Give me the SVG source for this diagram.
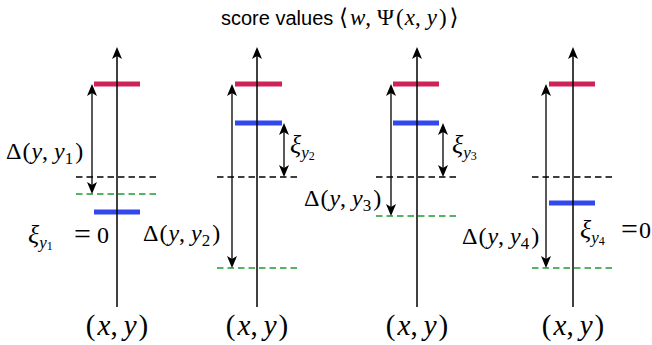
<svg xmlns="http://www.w3.org/2000/svg" width="652" height="345" viewBox="0 0 652 345">
<defs>
<marker id="ah" viewBox="0 0 12 10" refX="9" refY="5" markerWidth="12" markerHeight="10" markerUnits="userSpaceOnUse" orient="auto-start-reverse">
<path d="M0,0 L12,5 L0,10 L3,5 z" fill="#000"/>
</marker>
<marker id="axh" viewBox="0 0 12 10" refX="9" refY="5" markerWidth="13" markerHeight="10" markerUnits="userSpaceOnUse" orient="auto">
<path d="M0,0 L12,5 L0,10 L3,5 z" fill="#000"/>
</marker>
</defs>
<style>
.bg{fill:#fff}
.axis{stroke:#000;stroke-width:1.5;fill:none;marker-end:url(#axh)}
.dbl{stroke:#000;stroke-width:1.3;fill:none;marker-start:url(#ah);marker-end:url(#ah)}
.red{stroke:#cf2257;stroke-width:5}
.blue{stroke:#3347ee;stroke-width:5}
.dk{stroke:#000;stroke-width:1.3;stroke-dasharray:6.5 4}
.dg{stroke:#1f9a30;stroke-width:1.3;stroke-dasharray:6.5 4}
.m{font-family:"Liberation Serif","DejaVu Serif",serif;font-size:24px;fill:#000}
.i{font-style:italic}
.xi{font-style:italic;font-size:26px}
.sub{font-size:17px}
.ss{font-size:12px}
.eq{font-size:30px}
.b{font-family:"Liberation Serif","DejaVu Serif",serif;font-size:29px;fill:#000;text-anchor:middle}
.t{font-family:"Liberation Sans",Arial,sans-serif;font-size:20px;fill:#000}
.tm{font-family:"Liberation Serif","DejaVu Serif",serif;font-size:23px;fill:#000}
</style>
<rect class="bg" x="0" y="0" width="652" height="345"/>
<g id="title">
<text class="t" x="221" y="25">score values</text>
<text class="tm" x="339" y="25">⟨<tspan class="i" dx="2">w</tspan>,<tspan dx="6">Ψ</tspan><tspan dx="2">(</tspan><tspan class="i" dx="1">x</tspan>,<tspan class="i" dx="6">y</tspan><tspan dx="2">)</tspan><tspan dx="3">⟩</tspan></text>
</g>
<g id="col1">
<line class="dk" x1="76" y1="177" x2="159" y2="177"/>
<line class="dg" x1="76" y1="194" x2="159" y2="194"/>
<line class="red" x1="94" y1="84" x2="140" y2="84"/>
<line class="blue" x1="94" y1="212" x2="140" y2="212"/>
<text class="m" x="6" y="159">Δ<tspan dx="1">(</tspan><tspan class="i" dx="1">y</tspan>,<tspan class="i" dx="6">y</tspan><tspan class="sub" dy="5">1</tspan><tspan dy="-5" dx="2">)</tspan></text>
<text class="m" x="28" y="243"><tspan class="xi">ξ</tspan><tspan class="sub i" dy="5">y</tspan><tspan class="ss" dy="2">1</tspan><tspan class="eq" x="74" dy="-6">=</tspan><tspan x="97" dy="-1">0</tspan></text>
<text class="b" x="117" y="335">(<tspan class="i" dx="2">x</tspan>,<tspan class="i" dx="6">y</tspan><tspan dx="2">)</tspan></text>
</g>
<g id="col2">
<line class="dk" x1="217" y1="177" x2="299" y2="177"/>
<line class="dg" x1="217" y1="268" x2="299" y2="268"/>
<line class="red" x1="235" y1="84" x2="282" y2="84"/>
<line class="blue" x1="235" y1="123" x2="282" y2="123"/>
<text class="m" x="143" y="241">Δ<tspan dx="1">(</tspan><tspan class="i" dx="1">y</tspan>,<tspan class="i" dx="6">y</tspan><tspan class="sub" dy="5">2</tspan><tspan dy="-5" dx="2">)</tspan></text>
<text class="m" x="290" y="153"><tspan class="xi">ξ</tspan><tspan class="sub i" dy="5">y</tspan><tspan class="ss" dy="2">2</tspan></text>
<text class="b" x="257" y="335">(<tspan class="i" dx="2">x</tspan>,<tspan class="i" dx="6">y</tspan><tspan dx="2">)</tspan></text>
</g>
<g id="col3">
<line class="dk" x1="376" y1="177" x2="458" y2="177"/>
<line class="dg" x1="376" y1="216" x2="458" y2="216"/>
<line class="red" x1="393" y1="84" x2="439" y2="84"/>
<line class="blue" x1="393" y1="123" x2="439" y2="123"/>
<text class="m" x="304" y="206">Δ<tspan dx="1">(</tspan><tspan class="i" dx="1">y</tspan>,<tspan class="i" dx="6">y</tspan><tspan class="sub" dy="5">3</tspan><tspan dy="-5" dx="2">)</tspan></text>
<text class="m" x="452" y="153"><tspan class="xi">ξ</tspan><tspan class="sub i" dy="5">y</tspan><tspan class="ss" dy="2">3</tspan></text>
<text class="b" x="417" y="335">(<tspan class="i" dx="2">x</tspan>,<tspan class="i" dx="6">y</tspan><tspan dx="2">)</tspan></text>
</g>
<g id="col4">
<line class="dk" x1="532" y1="177" x2="614" y2="177"/>
<line class="dg" x1="532" y1="268" x2="614" y2="268"/>
<line class="red" x1="549" y1="84" x2="595" y2="84"/>
<line class="blue" x1="549" y1="203" x2="595" y2="203"/>
<text class="m" x="462" y="244">Δ<tspan dx="1">(</tspan><tspan class="i" dx="1">y</tspan>,<tspan class="i" dx="6">y</tspan><tspan class="sub" dy="5">4</tspan><tspan dy="-5" dx="2">)</tspan></text>
<text class="m" x="580" y="238"><tspan class="xi">ξ</tspan><tspan class="sub i" dy="5">y</tspan><tspan class="ss" dy="2">4</tspan><tspan class="eq" x="621" dy="-6">=</tspan><tspan x="639" dy="-1">0</tspan></text>
<text class="b" x="573" y="335">(<tspan class="i" dx="2">x</tspan>,<tspan class="i" dx="6">y</tspan><tspan dx="2">)</tspan></text>
</g>
<g id="connectors">
<line class="axis" x1="117" y1="307" x2="117" y2="50"/>
<line class="axis" x1="257" y1="307" x2="257" y2="50"/>
<line class="axis" x1="417" y1="307" x2="417" y2="50"/>
<line class="axis" x1="573" y1="307" x2="573" y2="50"/>
<line class="dbl" x1="92" y1="87" x2="92" y2="191"/>
<line class="dbl" x1="232" y1="87" x2="232" y2="265"/>
<line class="dbl" x1="284" y1="126" x2="284" y2="174"/>
<line class="dbl" x1="391" y1="87" x2="391" y2="213"/>
<line class="dbl" x1="443" y1="126" x2="443" y2="174"/>
<line class="dbl" x1="546" y1="87" x2="546" y2="265"/>
</g>
</svg>
